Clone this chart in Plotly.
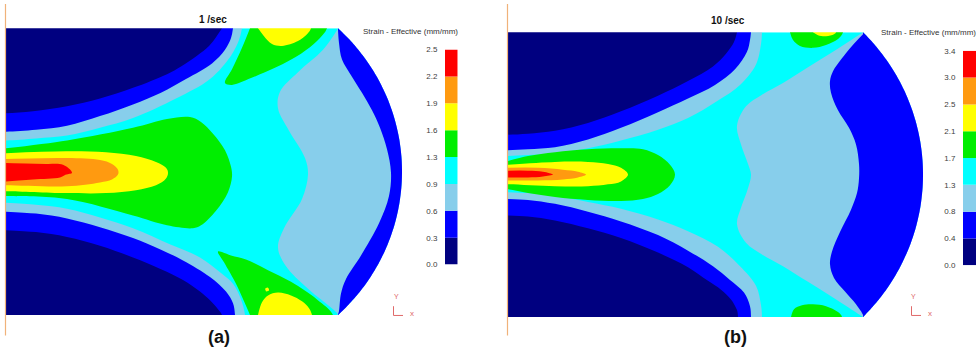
import numpy as np
import plotly.graph_objects as go

# ---------------------------------------------------------------- data ----
PANEL_TITLES = ["1 /sec", "10 /sec"]
PANEL_TAGS = ["(a)", "(b)"]
CB_TITLE = "Strain - Effective (mm/mm)"
LEVELS_A = ["0.0", "0.3", "0.6", "0.9", "1.3", "1.6", "1.9", "2.2", "2.5"]
LEVELS_B = ["0.0", "0.4", "0.8", "1.3", "1.7", "2.1", "2.5", "3.0", "3.4"]
BAND_COLORS = ["#000080", "#0000ff", "#87ceeb", "#00ffff",
               "#00ee00", "#ffff00", "#ff9a10", "#ff0000"]
NAVY, BLUE, LBLUE, CYAN, GREEN, YELLOW, ORANGE, RED = range(8)

# billet geometry (length of straight part, height, bulge of the free end)
GEOM_A = (332, 294, 64)
GEOM_B = (355, 292, 60)

# contour-band boundaries (x along billet, y down from top)
A_NAVY_TOP = [(216, 0), (210, 9), (203, 18), (191, 28), (175, 39), (161, 47), (127, 61),
              (94, 72), (61, 80), (27, 85), (0, 87)]
A_BLUE_TOP = [(227, 0), (225, 10), (219, 22), (206, 36), (180, 52), (155, 66), (127, 78),
              (94, 90), (61, 100), (30, 104), (0, 106)]
A_LB_TOP = [(236, 0), (233, 12), (225, 28), (204, 52), (170, 72), (127, 92), (94, 102),
            (61, 110), (30, 113), (0, 115)]
A_NAVY_BOT = [(0, 207), (30, 209), (61, 214), (94, 223), (127, 235), (155, 247), (177, 258),
              (194, 270), (204, 279), (212, 288), (216, 294)]
A_BLUE_BOT = [(0, 188), (30, 190), (61, 195), (94, 204), (127, 215), (155, 227), (177, 238),
              (204, 255), (220, 270), (227, 282), (229, 294)]
A_LB_BOT = [(0, 179), (30, 181), (61, 185), (94, 194), (127, 205), (165, 222), (194, 235),
            (215, 251), (227, 262), (235, 278), (239, 294)]
A_GREEN_TOP = [(244, 0), (236, 20), (226, 42), (219, 56), (226, 58), (245, 51), (270, 40),
               (295, 26), (311, 13), (321, 0)]
A_YELLOW_TOP = [(252, 0), (258, 8), (266, 16), (276, 18), (292, 13), (301, 6), (305, 0)]
A_GREEN_BOT = [(244, 294), (238, 280), (230, 262), (218, 240), (212, 229), (225, 233),
               (240, 237), (262, 248), (285, 260), (311, 278), (327, 294)]
A_YELLOW_BOT = [(252, 294), (256, 281), (262, 274), (272, 271), (285, 274), (296, 280),
                (303, 287), (306, 294)]
A_YELLOW_DOT = [(259, 267), (262, 266), (263, 269), (260, 270)]
A_LB_RIGHT = [(331, 2), (317, 22), (292, 45), (274, 65), (272, 82), (283, 105), (299, 133),
              (302, 150), (296, 175), (278, 205), (272, 225), (280, 244), (302, 267),
              (327, 288), (331, 292)]
A_BLUE_RIGHT = [(332, 2), (333, 15), (336, 32), (345, 48), (356, 66), (366, 84), (374, 102),
                (381, 124), (385, 148), (383, 172), (373, 200), (355, 233), (340, 257),
                (335, 272), (333, 290)]
A_GREEN_C = [(0, 123), (61, 115), (127, 102), (161, 93), (184, 91), (195, 96), (207, 108),
             (219, 125), (225, 142), (226, 152), (222, 168), (210, 187), (195, 202),
             (187, 205), (161, 202), (127, 192), (61, 175), (0, 172)]
A_YELLOW_C = [(0, 128), (60, 126), (100, 127), (130, 131), (150, 137), (160, 143), (162, 148),
              (160, 154), (150, 161), (130, 166), (100, 169), (60, 169), (0, 167)]
A_ORANGE_C = [(0, 134), (61, 133), (94, 135), (106, 139), (112, 145), (112, 150), (106, 155),
              (94, 158), (61, 162), (0, 161)]
A_RED_C = [(0, 138), (40, 139), (57, 140), (66, 148), (60, 150), (54, 153), (27, 155), (0, 157)]

B_NAVY_TOP = [(229, 0), (226, 10), (218, 22), (205, 35), (180, 50), (150, 65), (113, 81),
              (80, 93), (47, 101), (20, 104), (0, 105)]
B_BLUE_TOP = [(243, 0), (242, 8), (239, 20), (227, 38), (207, 54), (180, 68), (150, 82),
              (113, 98), (80, 110), (47, 118), (20, 120), (0, 121)]
B_LB_TOP = [(254, 0), (253, 12), (248, 33), (232, 54), (210, 70), (180, 88), (150, 100),
            (113, 111), (80, 119), (47, 124), (20, 126), (0, 127)]
B_NAVY_BOT = [(0, 188), (20, 189), (47, 193), (80, 201), (113, 211), (150, 226), (180, 241),
              (200, 255), (213, 264), (223, 274), (229, 285), (230, 292)]
B_BLUE_BOT = [(0, 171), (20, 172), (47, 176), (80, 184), (113, 194), (150, 208), (180, 224),
              (205, 240), (222, 254), (236, 267), (242, 281), (243, 292)]
B_LB_BOT = [(0, 164), (20, 165), (47, 168), (80, 174), (113, 181), (150, 192), (180, 204),
            (210, 220), (232, 240), (248, 260), (253, 280), (254, 292)]
B_GREEN_TOP = [(282, 0), (285, 8), (292, 14), (305, 16), (318, 13), (330, 7), (335, 0)]
B_YELLOW_TOP = [(305, 0), (310, 3), (318, 4), (326, 2), (328, 0)]
B_GREEN_BOT = [(283, 292), (286, 284), (294, 280), (305, 279), (318, 281), (330, 287),
               (334, 292)]
B_LB_RIGHT = [(352, 2), (325, 20), (300, 36), (275, 52), (254, 64), (238, 76), (229, 96),
              (233, 115), (240, 135), (243, 146), (240, 160), (233, 180), (229, 197),
              (238, 216), (254, 228), (275, 240), (300, 256), (325, 272), (352, 290)]
B_BLUE_RIGHT = [(355, 2), (344, 14), (333, 28), (325, 40), (322, 50), (323, 62), (330, 80),
                (341, 98), (348, 115), (351, 135), (351, 150), (349, 165), (343, 182),
                (332, 205), (324, 225), (322, 238), (326, 252), (337, 266), (348, 279),
                (355, 290)]
B_GREEN_C = [(0, 132), (20, 127), (47, 123), (80, 120), (113, 119), (135, 120), (150, 126),
             (162, 136), (167, 146), (162, 157), (150, 166), (135, 171), (113, 173),
             (80, 172), (47, 169), (20, 165), (0, 161)]
B_YELLOW_C = [(0, 136), (47, 133), (80, 133), (100, 135), (113, 139), (120, 146), (113, 153),
              (100, 156), (80, 158), (47, 158), (0, 156)]
B_ORANGE_C = [(0, 139), (30, 139), (55, 141), (70, 143), (78, 146), (70, 149), (55, 151),
              (30, 152), (0, 152)]
B_RED_C = [(0, 142), (20, 142), (35, 143), (45, 146), (35, 148), (20, 149), (0, 149)]

REGIONS_A = [
    (A_LB_RIGHT, LBLUE, "arc"), (A_BLUE_RIGHT, BLUE, "arc"),
    (A_LB_TOP, LBLUE, "tl"), (A_BLUE_TOP, BLUE, "tl"), (A_NAVY_TOP, NAVY, "tl"),
    (A_LB_BOT, LBLUE, "bl"), (A_BLUE_BOT, BLUE, "bl"), (A_NAVY_BOT, NAVY, "bl"),
    (A_GREEN_TOP, GREEN, "t"), (A_YELLOW_TOP, YELLOW, "t"),
    (A_GREEN_BOT, GREEN, "b"), (A_YELLOW_BOT, YELLOW, "b"), (A_YELLOW_DOT, YELLOW, "none"),
    (A_GREEN_C, GREEN, "l"), (A_YELLOW_C, YELLOW, "l"), (A_ORANGE_C, ORANGE, "l"),
    (A_RED_C, RED, "l"),
]
REGIONS_B = [
    (B_LB_RIGHT, LBLUE, "arc"), (B_BLUE_RIGHT, BLUE, "arc"),
    (B_LB_TOP, LBLUE, "tl"), (B_BLUE_TOP, BLUE, "tl"), (B_NAVY_TOP, NAVY, "tl"),
    (B_LB_BOT, LBLUE, "bl"), (B_BLUE_BOT, BLUE, "bl"), (B_NAVY_BOT, NAVY, "bl"),
    (B_GREEN_TOP, GREEN, "t"), (B_YELLOW_TOP, YELLOW, "t"), (B_GREEN_BOT, GREEN, "b"),
    (B_GREEN_C, GREEN, "l"), (B_YELLOW_C, YELLOW, "l"), (B_ORANGE_C, ORANGE, "l"),
    (B_RED_C, RED, "l"),
]

# ------------------------------------------------------------- layout ----
FIG_W, FIG_H = 976, 358
ORIGIN_A = (6, 25)      # pixel position of billet top-left corner
ORIGIN_B = (508, 29)
EXT = 15
FONT = "Arial, Liberation Sans, sans-serif"


def px(x):
    return x / FIG_W


def py(y):
    return 1 - y / FIG_H


def arc_pts(W, H, s, n=90):
    R = ((H / 2) ** 2 + s ** 2) / (2 * s)
    cx, cy = W + s - R, H / 2
    a = np.arcsin((H / 2) / R)
    th = np.linspace(a, -a, n)
    return list(cx + R * np.cos(th)), list(cy + R * np.sin(th))


def region_xy(pts, kind, geom):
    W, H, s = geom
    xs = [p[0] for p in pts]
    ys = [p[1] for p in pts]
    E = EXT
    if kind == "tl":
        xs += [-E, -E, xs[0]]; ys += [ys[-1], -E, -E]
    elif kind == "bl":
        xs += [xs[-1], -E, -E]; ys += [H + E, H + E, ys[0]]
    elif kind == "l":
        xs += [-E, -E]; ys += [ys[-1], ys[0]]
    elif kind == "t":
        xs += [xs[-1], xs[0]]; ys += [-E, -E]
    elif kind == "b":
        xs += [xs[-1], xs[0]]; ys += [H + E, H + E]
    elif kind == "arc":
        ax, ay = arc_pts(W, H, s)
        xs += ax; ys += ay
    return xs, ys


fig = go.Figure()
shapes = []
annotations = []

panels = [
    (REGIONS_A, GEOM_A, ORIGIN_A, "x", "y"),
    (REGIONS_B, GEOM_B, ORIGIN_B, "x2", "y2"),
]
for regions, geom, origin, xa, ya in panels:
    W, H, s = geom
    ax, ay = arc_pts(W, H, s)
    # base cyan body
    fig.add_trace(go.Scatter(
        x=[0, 0] + ax + [0], y=[0, H] + ay + [0], mode="lines", fill="toself",
        fillcolor=BAND_COLORS[CYAN], line=dict(width=0, color=BAND_COLORS[CYAN]),
        hoverinfo="skip", xaxis=xa, yaxis=ya))
    for pts, band, kind in regions:
        xs, ys = region_xy(pts, kind, geom)
        fig.add_trace(go.Scatter(
            x=xs, y=ys, mode="lines", fill="toself", fillcolor=BAND_COLORS[band],
            line=dict(width=0, color=BAND_COLORS[band], shape="spline", smoothing=1),
            hoverinfo="skip", xaxis=xa, yaxis=ya))
    # white masks outside the billet (cover spline overshoot)
    M = 40
    for x0, x1, y0, y1 in [(-M, W, -M, 0), (-M, W, H, H + M), (-M, 0, -M, H + M)]:
        shapes.append(dict(type="rect", xref=xa, yref=ya, x0=x0, x1=x1, y0=y0, y1=y1,
                           fillcolor="white", line=dict(width=0), layer="above"))

# colorbars (stacked bars)
for lev, xa, ya in [(LEVELS_A, "x3", "y3"), (LEVELS_B, "x4", "y4")]:
    fig.add_trace(go.Bar(
        x=[0] * 8, y=[1] * 8, base=list(range(8)), width=1,
        marker=dict(color=BAND_COLORS, line=dict(width=0)),
        hoverinfo="skip", xaxis=xa, yaxis=ya))

hidden = dict(visible=False, showgrid=False, zeroline=False)
fig.update_layout(
    width=FIG_W, height=FIG_H, margin=dict(l=0, r=0, t=0, b=0),
    paper_bgcolor="white", plot_bgcolor="rgba(0,0,0,0)", showlegend=False,
    xaxis=dict(domain=[0, 1], range=[-ORIGIN_A[0], FIG_W - ORIGIN_A[0]], **hidden),
    yaxis=dict(domain=[0, 1], range=[FIG_H - ORIGIN_A[1], -ORIGIN_A[1]], **hidden),
    xaxis2=dict(domain=[0, 1], range=[-ORIGIN_B[0], FIG_W - ORIGIN_B[0]],
                anchor="y2", **hidden),
    yaxis2=dict(domain=[0, 1], range=[FIG_H - ORIGIN_B[1], -ORIGIN_B[1]],
                anchor="x2", **hidden),
    xaxis3=dict(domain=[px(445), px(457.7)], range=[-0.5, 0.5], anchor="y3", **hidden),
    yaxis3=dict(domain=[py(267.3), py(46.7)], range=[0, 8], anchor="x3",
                tickvals=list(range(9)), ticktext=LEVELS_A, ticks="outside", ticklen=5,
                tickcolor="rgba(0,0,0,0)", showgrid=False, zeroline=False, showline=False,
                tickfont=dict(family=FONT, size=8, color="#404040")),
    xaxis4=dict(domain=[px(963), 1], range=[-0.5, 0.5], anchor="y4", **hidden),
    yaxis4=dict(domain=[py(268), py(48)], range=[0, 8], anchor="x4",
                tickvals=list(range(9)), ticktext=LEVELS_B, ticks="outside", ticklen=5,
                tickcolor="rgba(0,0,0,0)", showgrid=False, zeroline=False, showline=False,
                tickfont=dict(family=FONT, size=8, color="#404040")),
)


def ann(text, x, y, size, bold=False, xanchor="center", color="#111111"):
    annotations.append(dict(
        text=f"<b>{text}</b>" if bold else text, x=px(x), y=py(y), xref="paper",
        yref="paper", xanchor=xanchor, yanchor="middle", showarrow=False,
        font=dict(family=FONT, size=size, color=color)))


ann(PANEL_TITLES[0], 213, 16, 10, bold=True)
ann(PANEL_TITLES[1], 728, 17, 10, bold=True)
ann(PANEL_TAGS[0], 219, 342, 18, bold=True)
ann(PANEL_TAGS[1], 735, 342, 18, bold=True)
ann(CB_TITLE, 361, 28, 8, xanchor="left", color="#333333")
ann(CB_TITLE, 879, 29, 8, xanchor="left", color="#333333")

TRIAD = "#e06a6a"
for (lx, ly, rx), (yx, xx) in [((393.5, 310, 403), (396, 412)), ((911.5, 310, 921), (913, 930))]:
    ann("Y", yx, 300, 7, color=TRIAD)
    ann("x", xx, 317, 8, color=TRIAD)
    shapes.append(dict(type="line", xref="paper", yref="paper", x0=px(lx), x1=px(lx),
                       y0=py(ly), y1=py(319.5), line=dict(color=TRIAD, width=1), layer="above"))
    shapes.append(dict(type="line", xref="paper", yref="paper", x0=px(lx), x1=px(rx),
                       y0=py(319.5), y1=py(319.5), line=dict(color=TRIAD, width=1), layer="above"))

# thin orange frame lines on the left of each panel
for lx in (5.5, 507.5):
    shapes.append(dict(type="line", xref="paper", yref="paper", x0=px(lx), x1=px(lx),
                       y0=py(0), y1=py(340), line=dict(color="#f0b27a", width=1.2),
                       layer="above"))

fig.update_layout(shapes=shapes, annotations=annotations)
fig.write_html("out.html")
